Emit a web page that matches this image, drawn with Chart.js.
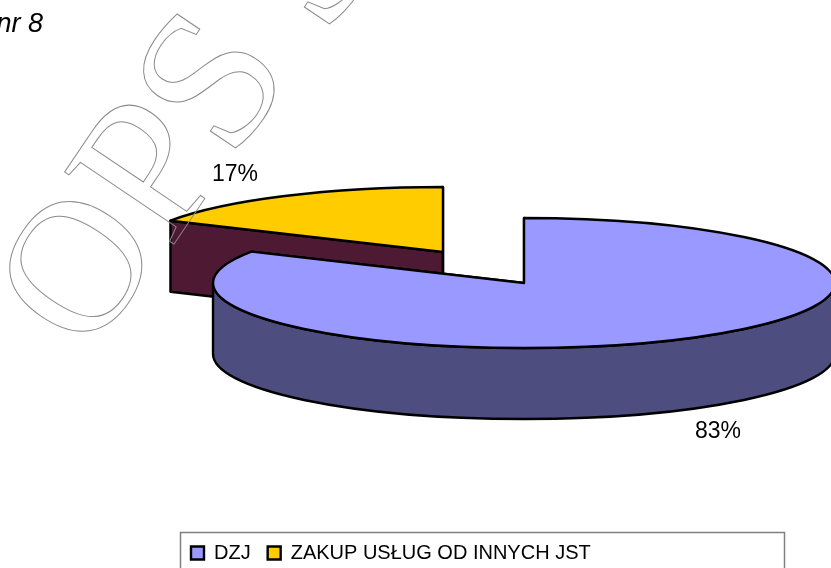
<!DOCTYPE html>
<html><head><meta charset="utf-8">
<style>html,body{margin:0;padding:0;background:#fff;overflow:hidden}#w{position:relative;width:831px;height:568px}canvas{display:block}</style>
<script src="https://cdn.jsdelivr.net/npm/chart.js@4"></script>
</head><body><div id="w"><canvas id="c" width="831" height="568"></canvas></div>
<script>
const categories = ["DZJ", "ZAKUP USŁUG OD INNYCH JST"];
const values = [83, 17];
const topColors = ["#9999ff", "#ffcc00"];
const sideColors = ["#4d4d7f", "#4d1933"];
const pieLabelPos = [[718, 438], [235, 181]];
const captionText = "nr 8";
const watermarkLetters = ["O", "P", "S", "S"];

const geo = {cx: 483.5, cy: 267.5, rx: 311, ry: 65, depth: 71, exX: 79.6, exY: 18};

const pie3d = {
  id: "pie3d",
  beforeDatasetsDraw(chart) {
    const ctx = chart.ctx, arcs = chart.getDatasetMeta(0).data;
    const order = arcs.map((a, i) => i).sort((a, b) => b - a);
    const centers = arcs.map(a => {
      const m = (a.startAngle + a.endAngle) / 2;
      return [geo.cx + Math.cos(m) * geo.exX, geo.cy + Math.sin(m) * geo.exY];
    });
    const pt = (c, t, d) => [c[0] + geo.rx * Math.cos(t), c[1] + geo.ry * Math.sin(t) + d];
    ctx.save();
    ctx.lineJoin = "round";
    ctx.strokeStyle = "#000";
    ctx.lineWidth = 2.4;
    order.forEach(i => {
      const a = arcs[i], c = centers[i];
      ctx.fillStyle = sideColors[i];
      [a.startAngle, a.endAngle].forEach(t => {
        const p = pt(c, t, 0);
        ctx.beginPath();
        ctx.moveTo(c[0], c[1]);
        ctx.lineTo(p[0], p[1]);
        ctx.lineTo(p[0], p[1] + geo.depth);
        ctx.lineTo(c[0], c[1] + geo.depth);
        ctx.closePath();
        ctx.fill(); ctx.stroke();
      });
      const lo = Math.max(a.startAngle, 0), hi = Math.min(a.endAngle, Math.PI);
      if (hi > lo) {
        ctx.beginPath();
        ctx.ellipse(c[0], c[1], geo.rx, geo.ry, 0, lo, hi);
        ctx.ellipse(c[0], c[1] + geo.depth, geo.rx, geo.ry, 0, hi, lo, true);
        ctx.closePath();
        ctx.fill(); ctx.stroke();
      }
      ctx.fillStyle = topColors[i];
      ctx.beginPath();
      ctx.moveTo(c[0], c[1]);
      ctx.ellipse(c[0], c[1], geo.rx, geo.ry, 0, a.startAngle, a.endAngle);
      ctx.closePath();
      ctx.fill(); ctx.stroke();
    });
    ctx.restore();
    return false;
  },
  afterDraw(chart) {
    const ctx = chart.ctx;
    ctx.save();
    ctx.fillStyle = "#000";
    ctx.font = '23px "Liberation Sans"';
    ctx.textAlign = "center";
    ctx.textBaseline = "alphabetic";
    values.forEach((v, i) => ctx.fillText(Math.round(v / values.reduce((s, x) => s + x, 0) * 100) + "%", pieLabelPos[i][0], pieLabelPos[i][1]));
    ctx.font = 'italic 27px "Liberation Sans"';
    ctx.textAlign = "right";
    ctx.fillText(captionText, 43, 32);
    ctx.strokeStyle = "#808080";
    ctx.lineWidth = 1.5;
    ctx.strokeRect(180.5, 532.5, 604, 50);
    ctx.strokeStyle = "#8c8c8c";
    ctx.lineWidth = 1;
    ctx.textAlign = "left";
    const pos = [[89, 358, 190], [170, 250, 200], [232, 162, 200], [326, 38, 200]];
    watermarkLetters.forEach((l, i) => {
      ctx.save();
      ctx.font = pos[i][2] + 'px "Liberation Serif"';
      ctx.translate(pos[i][0], pos[i][1]);
      ctx.rotate(-56 * Math.PI / 180);
      ctx.strokeText(l, 0, 0);
      ctx.restore();
    });
    ctx.restore();
  }
};

new Chart(document.getElementById("c"), {
  type: "pie",
  data: {labels: categories, datasets: [{data: values, backgroundColor: topColors, borderWidth: 0}]},
  options: {
    responsive: false, animation: false,
    layout: {padding: {left: 174, right: 46, bottom: -5}},
    plugins: {
      tooltip: {enabled: false},
      legend: {
        position: "bottom", align: "start",
        labels: {
          boxWidth: 13, boxHeight: 13, padding: 17, color: "#000",
          font: {family: '"Liberation Sans"', size: 20},
          generateLabels: () => categories.map((t, i) => ({text: t, fillStyle: topColors[i], strokeStyle: "#000", lineWidth: 2.4, index: i, hidden: false}))
        }
      }
    }
  },
  plugins: [pie3d]
});
</script></body></html>
